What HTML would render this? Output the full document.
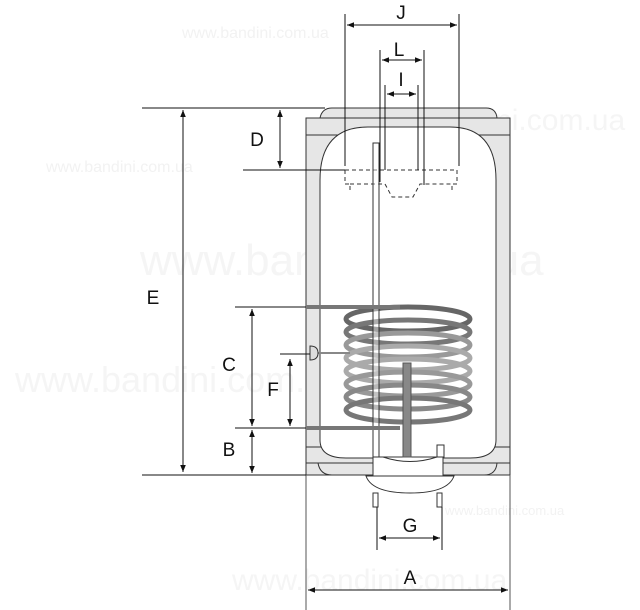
<!DOCTYPE html>
<html><head><meta charset="utf-8"><style>html,body{margin:0;padding:0;background:#fff}svg{display:block}</style></head>
<body>
<svg width="640" height="610" viewBox="0 0 640 610" xmlns="http://www.w3.org/2000/svg" font-family="Liberation Sans, sans-serif">
<defs>
<marker id="ar" viewBox="0 0 10 10" refX="10" refY="5" markerWidth="7" markerHeight="7" orient="auto-start-reverse"><path d="M0,1 L10,5 L0,9 z" fill="#111"/></marker>
</defs>
<!-- watermarks -->
<g fill="#f2f2f2" font-size="16">
<text x="182" y="38">www.bandini.com.ua</text>
<text x="46" y="172">www.bandini.com.ua</text>
<text x="445" y="515" font-size="13">www.bandini.com.ua</text>
</g>
<g fill="#f5f5f5" font-size="44">
<text x="140" y="275">www.bandini.com.ua</text>
<text x="15" y="392" font-size="36">www.bandini.com.ua</text>
<text x="232" y="590" font-size="30">www.bandini.com.ua</text>
<text x="350" y="130" font-size="30">www.bandini.com.ua</text>
</g>
<!-- body -->
<path d="M320,118 Q322,108 332,108 L486,108 Q496,108 497,118 Z" fill="#e6e6e6" stroke="#333" stroke-width="1"/>
<rect x="306" y="118" width="204" height="357" fill="#e6e6e6" stroke="#333" stroke-width="1"/>
<line x1="306" y1="135" x2="510" y2="135" stroke="#333"/>
<line x1="306" y1="447" x2="510" y2="447" stroke="#333"/>
<path d="M318,463 Q320,475 332,475 L484,475 Q496,475 497,463" fill="#e6e6e6" stroke="#333"/>
<path d="M320,440 L320,180 Q320,127 368,127 L450,127 Q496,127 496,180 L496,440 Q496,458 470,458 L346,458 Q320,458 320,440 Z" fill="#fff" stroke="#333"/>
<line x1="306" y1="463" x2="510" y2="463" stroke="#333"/>
<line x1="306" y1="475" x2="306" y2="610" stroke="#555"/>
<line x1="510" y1="475" x2="510" y2="610" stroke="#555"/>
<!-- bowl -->
<path d="M366,476 Q372,493 410,493 Q448,493 454,476 Z" fill="#fff" stroke="#333"/>
<rect x="373" y="457" width="70" height="19" fill="#fff" stroke="#333"/>
<path d="M383,457 Q410,466 437,457" fill="none" stroke="#333"/>
<rect x="373" y="493" width="5" height="14" fill="#fff" stroke="#333"/>
<rect x="437" y="493" width="5" height="14" fill="#fff" stroke="#333"/>
<rect x="437" y="445" width="7" height="12" fill="#fff" stroke="#333"/>
<!-- dashed flange -->
<g fill="none" stroke="#333" stroke-dasharray="4,3">
<path d="M345,170 L457,170 L457,184 L452,184 L452,193"/>
<path d="M345,170 L345,184 L350,184 L350,193"/>
<path d="M350,184 L385,184 L392,197 L413,197 L420,184 L452,184"/>
</g>
<!-- coil -->
<g fill="none" stroke-width="5">
<ellipse cx="408" cy="319" rx="62" ry="12" stroke="#666"/>
<ellipse cx="408" cy="332" rx="62" ry="12" stroke="#777"/>
<ellipse cx="408" cy="345" rx="62" ry="12" stroke="#999"/>
<ellipse cx="408" cy="358" rx="62" ry="12" stroke="#aaa"/>
<ellipse cx="408" cy="371" rx="62" ry="12" stroke="#aaa"/>
<ellipse cx="408" cy="384" rx="62" ry="12" stroke="#999"/>
<ellipse cx="408" cy="397" rx="62" ry="12" stroke="#888"/>
<ellipse cx="408" cy="410" rx="62" ry="12" stroke="#777"/>
</g>
<!-- rod -->
<rect x="373" y="143" width="6" height="314" fill="#fff" fill-opacity="0.4" stroke="#333"/>
<rect x="403" y="363" width="8" height="94" fill="#888" stroke="#555"/>
<line x1="306" y1="307" x2="400" y2="307" stroke="#777" stroke-width="4"/>
<line x1="306" y1="428" x2="400" y2="428" stroke="#777" stroke-width="4"/>
<line x1="316" y1="353" x2="350" y2="353" stroke="#888" stroke-width="2"/>
<path d="M310,346 Q318,346 318,353 Q318,360 310,360 Z" fill="#ddd" stroke="#333"/>
<!-- dimension lines -->
<g stroke="#111" stroke-width="1" fill="none">
<line x1="142" y1="108" x2="325" y2="108"/>
<line x1="142" y1="475" x2="306" y2="475"/>
<line x1="183" y1="110" x2="183" y2="472" marker-start="url(#ar)" marker-end="url(#ar)"/>
<line x1="243" y1="170" x2="345" y2="170"/>
<line x1="280" y1="110" x2="280" y2="168" marker-start="url(#ar)" marker-end="url(#ar)"/>
<line x1="235" y1="307" x2="306" y2="307"/>
<line x1="235" y1="428" x2="306" y2="428"/>
<line x1="252" y1="309" x2="252" y2="426" marker-start="url(#ar)" marker-end="url(#ar)"/>
<line x1="252" y1="430" x2="252" y2="473" marker-start="url(#ar)" marker-end="url(#ar)"/>
<line x1="280" y1="354" x2="310" y2="354"/>
<line x1="290" y1="359" x2="290" y2="426" marker-start="url(#ar)" marker-end="url(#ar)"/>
<line x1="345" y1="14" x2="345" y2="166"/>
<line x1="459" y1="14" x2="459" y2="166"/>
<line x1="347" y1="25" x2="457" y2="25" marker-start="url(#ar)" marker-end="url(#ar)"/>
<line x1="380" y1="50" x2="380" y2="182"/>
<line x1="424" y1="50" x2="424" y2="185"/>
<line x1="382" y1="60" x2="422" y2="60" marker-start="url(#ar)" marker-end="url(#ar)"/>
<line x1="385" y1="85" x2="385" y2="170"/>
<line x1="418" y1="85" x2="418" y2="170"/>
<line x1="387" y1="94" x2="416" y2="94" marker-start="url(#ar)" marker-end="url(#ar)"/>
<line x1="377" y1="507" x2="377" y2="550"/>
<line x1="442" y1="507" x2="442" y2="550"/>
<line x1="379" y1="538" x2="440" y2="538" marker-start="url(#ar)" marker-end="url(#ar)"/>
<line x1="308" y1="590" x2="508" y2="590" marker-start="url(#ar)" marker-end="url(#ar)"/>
</g>
<g fill="#111" font-size="19" text-anchor="middle">
<text x="401" y="19">J</text>
<text x="399" y="56">L</text>
<text x="401" y="86">I</text>
<text x="257" y="146">D</text>
<text x="153" y="304">E</text>
<text x="229" y="371">C</text>
<text x="273" y="396">F</text>
<text x="229" y="456">B</text>
<text x="410" y="532">G</text>
<text x="410" y="584">A</text>
</g>
</svg>
</body></html>
